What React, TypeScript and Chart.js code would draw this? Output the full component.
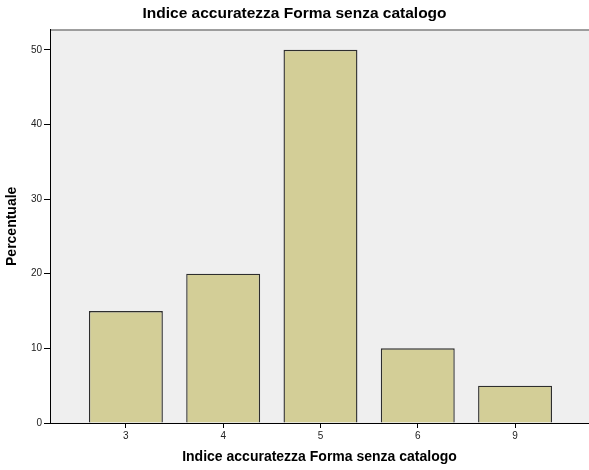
import React, { useEffect, useRef } from "react";
import { Chart, registerables } from "chart.js";

Chart.register(...registerables);

const categories = ["3", "4", "5", "6", "9"];
const percentuale = [15, 20, 50, 10, 5];
const yTicks = [0, 10, 20, 30, 40, 50];
const chartTitle = "Indice accuratezza Forma senza catalogo";
const xTitle = "Indice accuratezza Forma senza catalogo";
const yTitle = "Percentuale";

const FONT = "'Liberation Sans', Arial, sans-serif";

const areaBg = {
  id: "areaBg",
  beforeDraw(chart: any) {
    const { ctx, chartArea } = chart;
    if (!chartArea) return;
    ctx.save();
    ctx.fillStyle = "#efefef";
    ctx.fillRect(chartArea.left, chartArea.top, chartArea.right - chartArea.left, chartArea.bottom - chartArea.top);
    ctx.strokeStyle = "#808080";
    ctx.lineWidth = 1.5;
    ctx.beginPath();
    ctx.moveTo(chartArea.left, chartArea.top + 0.5);
    ctx.lineTo(chartArea.right, chartArea.top + 0.5);
    ctx.stroke();
    ctx.restore();
  },
};

export default function App() {
  const ref = useRef<HTMLCanvasElement>(null);
  useEffect(() => {
    document.body.style.margin = "0";
    const chart = new Chart(ref.current!, {
      type: "bar",
      data: {
        datasets: [
          {
            label: yTitle,
            data: categories.map((_, i) => ({ x: i, y: percentuale[i] })),
            backgroundColor: "#d3ce97",
            borderColor: "#2e2e2e",
            borderWidth: 1.4,
            categoryPercentage: 1,
            barPercentage: 0.76,
          },
        ],
      },
      options: {
        animation: false,
        responsive: false,
        maintainAspectRatio: false,
        layout: { padding: { left: 0, right: 0, top: 0, bottom: 0 } },
        plugins: {
          legend: { display: false },
          tooltip: { enabled: false },
          title: {
            display: true,
            text: chartTitle,
            color: "#000",
            font: { family: FONT, size: 15.5, weight: "bold" },
            padding: { top: 4, bottom: 7 },
          },
        },
        scales: {
          x: {
            type: "linear",
            offset: false,
            min: -0.78,
            max: 4.76,
            afterBuildTicks: (scale: any) => {
              scale.ticks = categories.map((_, i) => ({ value: i }));
            },
            afterFit: (scale: any) => {
              scale.height = 47;
            },
            ticks: {
              callback: (v: any) => categories[v as number] ?? "",
              color: "#222",
              font: { family: FONT, size: 10 },
              padding: 2,
              maxRotation: 0,
            },
            grid: { offset: false, drawOnChartArea: false, drawTicks: true, tickLength: 5, color: "#000" },
            border: { display: true, color: "#000", width: 1 },
            title: {
              display: true,
              text: xTitle,
              color: "#000",
              font: { family: FONT, size: 14, weight: "bold" },
              padding: { top: 0, bottom: 4 },
            },
          },
          y: {
            min: 0,
            max: 52.7,
            afterBuildTicks: (scale: any) => {
              scale.ticks = yTicks.map((v) => ({ value: v }));
            },
            afterFit: (scale: any) => {
              scale.width = 50;
            },
            ticks: {
              color: "#222",
              font: { family: FONT, size: 10 },
              padding: 2,
            },
            grid: { drawOnChartArea: false, drawTicks: true, tickLength: 6, color: "#000" },
            border: { display: true, color: "#000", width: 1 },
            title: {
              display: true,
              text: yTitle,
              color: "#000",
              font: { family: FONT, size: 14, weight: "bold" },
              padding: { top: 4, bottom: 0 },
            },
          },
        },
      },
      plugins: [areaBg],
    });
    return () => chart.destroy();
  }, []);
  return (
    <div style={{ position: "absolute", left: 0, top: 0, width: 589, height: 470, background: "#fff" }}>
      <canvas ref={ref} width={589} height={470} style={{ width: 589, height: 470 }} />
    </div>
  );
}
